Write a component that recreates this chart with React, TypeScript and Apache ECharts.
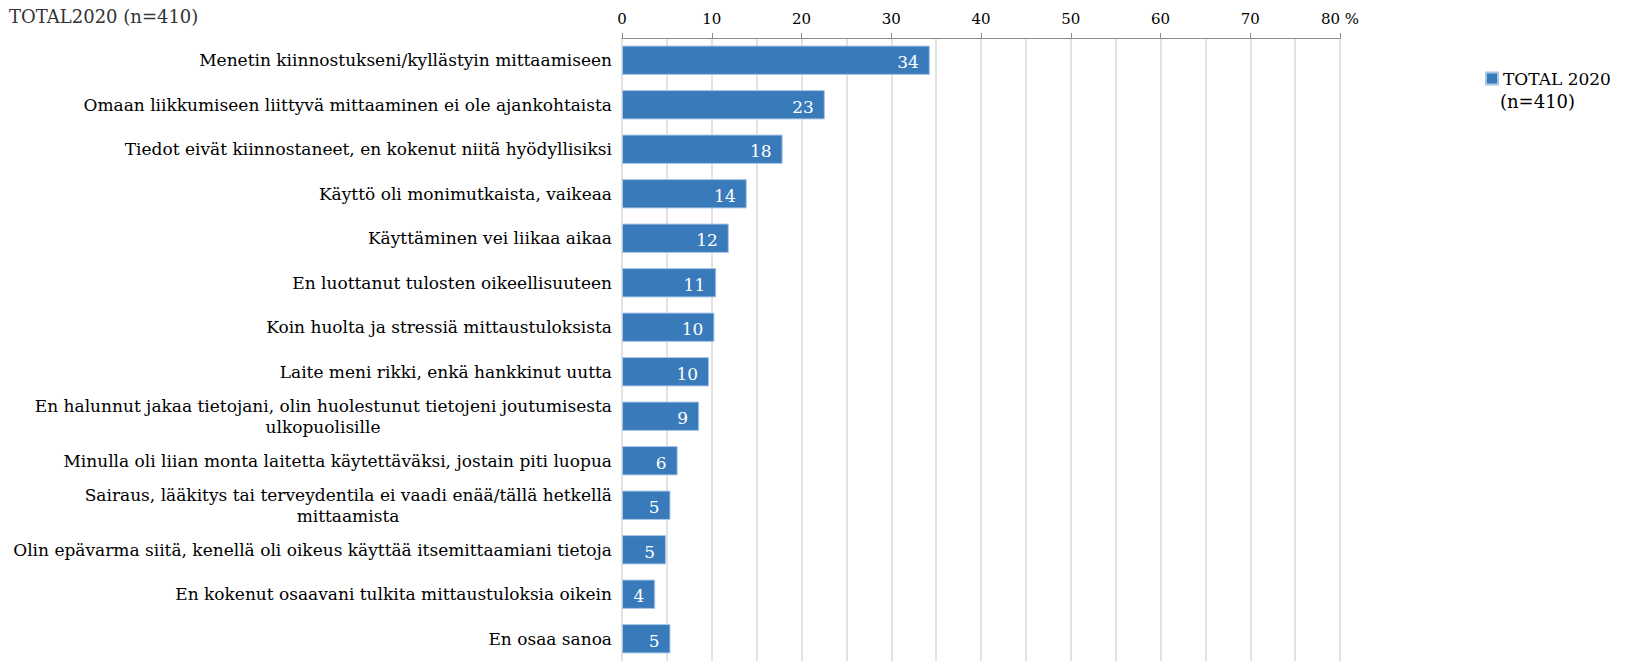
import React, { useEffect, useRef } from "react";
import * as echarts from "echarts";

const categories: string[] = [
  "Menetin kiinnostukseni/kyllästyin mittaamiseen",
  "Omaan liikkumiseen liittyvä mittaaminen ei ole ajankohtaista",
  "Tiedot eivät kiinnostaneet, en kokenut niitä hyödyllisiksi",
  "Käyttö oli monimutkaista, vaikeaa",
  "Käyttäminen vei liikaa aikaa",
  "En luottanut tulosten oikeellisuuteen",
  "Koin huolta ja stressiä mittaustuloksista",
  "Laite meni rikki, enkä hankkinut uutta",
  "En halunnut jakaa tietojani, olin huolestunut tietojeni joutumisesta\nulkopuolisille",
  "Minulla oli liian monta laitetta käytettäväksi, jostain piti luopua",
  "Sairaus, lääkitys tai terveydentila ei vaadi enää/tällä hetkellä\nmittaamista",
  "Olin epävarma siitä, kenellä oli oikeus käyttää itsemittaamiani tietoja",
  "En kokenut osaavani tulkita mittaustuloksia oikein",
  "En osaa sanoa",
];
const values: number[] = [34.3, 22.6, 17.9, 13.9, 11.9, 10.5, 10.3, 9.7, 8.6, 6.2, 5.4, 4.9, 3.7, 5.4];
const seriesName = "TOTAL 2020 (n=410)";
const legendLine1 = "TOTAL 2020";
const legendLine2 = "(n=410)";
const cornerTitle = "TOTAL2020 (n=410)";
const axisMin = 0;
const axisMax = 80;
const axisInterval = 10;
const axisUnit = " %";

const FONT = "'DejaVu Serif', 'Liberation Serif', serif";
const FS = 17;

function measure(text: string): number {
  const c = document.createElement("canvas").getContext("2d");
  if (!c) return text.length * 9;
  c.font = `${FS}px ${FONT}`;
  return c.measureText(text).width;
}

export default function App() {
  const ref = useRef<HTMLDivElement>(null);
  useEffect(() => {
    if (!ref.current) return;
    const chart = echarts.init(ref.current, undefined, { renderer: "svg" });
    const rich: Record<string, any> = {};
    categories.forEach((c, i) => {
      const lines = c.split("\n");
      if (lines.length > 1) {
        rich["c" + i] = {
          width: Math.ceil(measure(lines[0])),
          align: "center",
          fontSize: FS,
          fontFamily: FONT,
          color: "#000",
          lineHeight: 21,
        };
      }
    });
    chart.setOption({
      animation: false,
      backgroundColor: "#fff",
      textStyle: { fontFamily: FONT },
      grid: { left: 622, right: 305, top: 38, bottom: 1 },
      legend: {
        show: true,
        left: 1480,
        top: 65,
        itemWidth: 12,
        itemHeight: 12,
        icon: "rect",
        formatter: () => legendLine1,
        textStyle: { fontSize: 17, fontFamily: FONT, color: "#000" },
        data: [seriesName],
      },
      graphic: [
        {
          type: "text",
          left: 9,
          top: 7,
          style: { text: cornerTitle, fontSize: 18, fontFamily: FONT, fill: "#333" },
        },
        {
          type: "text",
          left: 1500,
          top: 92,
          style: { text: legendLine2, fontSize: 18, fontFamily: FONT, fill: "#000" },
        },
      ],
      xAxis: {
        type: "value",
        position: "top",
        min: axisMin,
        max: axisMax,
        interval: axisInterval,
        axisLine: { show: true, lineStyle: { color: "#8c8c8c", width: 1 } },
        axisTick: { show: true, length: 5, lineStyle: { color: "#8c8c8c" } },
        axisLabel: {
          fontSize: 15,
          fontFamily: FONT,
          color: "#000",
          margin: 12,
          formatter: (v: number) => (v === axisMax ? `${v}${axisUnit}` : `${v}`),
        },
        splitLine: { show: true, lineStyle: { color: "#d9d9d9", width: 1.5 } },
        minorTick: { show: false, splitNumber: 2 },
        minorSplitLine: { show: true, lineStyle: { color: "#d9d9d9", width: 1.5 } },
      },
      yAxis: {
        type: "category",
        inverse: true,
        data: categories,
        axisLine: { show: false },
        axisTick: { show: false },
        axisLabel: {
          fontSize: FS,
          fontFamily: FONT,
          color: "#000",
          margin: 10,
          lineHeight: 21,
          rich,
          formatter: (v: string) => {
            const lines = v.split("\n");
            if (lines.length === 1) return v;
            const i = categories.indexOf(v);
            return `${lines[0]}\n{c${i}|${lines[1]}}`;
          },
        },
      },
      series: [
        {
          name: seriesName,
          type: "bar",
          data: values,
          barCategoryGap: "34%",
          itemStyle: { color: "#397aba", borderColor: "#a8c6e6", borderWidth: 1 },
          label: {
            show: true,
            position: "insideRight",
            distance: 11,
            offset: [0, 2],
            color: "#fff",
            fontSize: 17,
            fontFamily: FONT,
            formatter: (p: any) => `${Math.round(p.value)}`,
          },
        },
      ],
    });
    return () => chart.dispose();
  }, []);
  return (
    <div
      ref={ref}
      style={{ position: "fixed", left: 0, top: 0, width: 1645, height: 662 }}
    />
  );
}
